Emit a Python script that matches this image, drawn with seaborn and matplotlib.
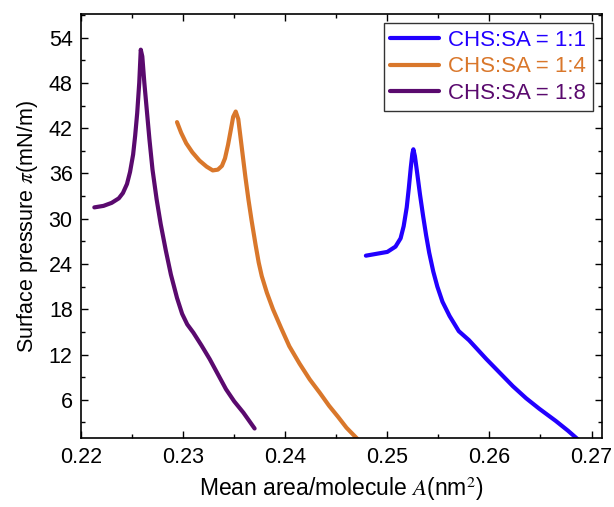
import pandas as pd
import matplotlib
matplotlib.use("Agg")
import matplotlib.pyplot as plt
from matplotlib.ticker import MultipleLocator, FormatStrFormatter
import seaborn as sns

# --- dados (isotermas pi-A) ---
labels = ["CHS:SA = 1:1", "CHS:SA = 1:4", "CHS:SA = 1:8"]
cores = ["#2200FF", "#D9772B", "#5A0A6E"]

a_11 = [0.2479, 0.2500, 0.2508, 0.2513, 0.2516, 0.2519, 0.2521, 0.2523, 0.25245,
        0.25255, 0.2527, 0.2529, 0.2532, 0.2535, 0.2538, 0.2541, 0.2545, 0.2549,
        0.2554, 0.2561, 0.2570, 0.2580, 0.2597, 0.2610, 0.2623, 0.2636, 0.2649,
        0.2665, 0.2677, 0.2688]
p_11 = [25.1, 25.6, 26.3, 27.4, 29.0, 31.5, 34.0, 36.8, 38.6,
        39.2, 38.3, 36.3, 33.2, 30.4, 27.8, 25.5, 23.0, 21.0,
        19.0, 17.1, 15.1, 13.9, 11.4, 9.6, 7.8, 6.2, 4.8,
        3.2, 1.9, 0.6]

a_14 = [0.2294, 0.2298, 0.2303, 0.2309, 0.2316, 0.2323, 0.2329, 0.2334, 0.2338,
        0.2341, 0.2344, 0.2347, 0.2349, 0.23515, 0.2354, 0.2356, 0.2358, 0.2361,
        0.2364, 0.2367, 0.2371, 0.2374, 0.2377, 0.2382, 0.2388, 0.2396, 0.2404,
        0.2414, 0.2424, 0.2434, 0.2443, 0.2452, 0.2460, 0.2473]
p_14 = [42.8, 41.4, 40.0, 38.8, 37.7, 36.9, 36.4, 36.5, 37.0,
        38.0, 39.8, 42.0, 43.5, 44.2, 43.2, 41.0, 38.8, 35.5,
        32.5, 29.8, 26.5, 24.2, 22.4, 20.2, 18.0, 15.5, 13.1,
        10.8, 8.7, 6.9, 5.2, 3.7, 2.3, 0.5]

a_18 = [0.2213, 0.2222, 0.2230, 0.2237, 0.2241, 0.2245, 0.2248, 0.2251, 0.2253,
        0.2255, 0.2257, 0.22585, 0.2260, 0.2262, 0.2264, 0.2267, 0.2270, 0.2274,
        0.2278, 0.2283, 0.2288, 0.2294, 0.2299, 0.2304, 0.2310, 0.2318, 0.2326,
        0.2334, 0.2342, 0.2350, 0.2359, 0.2370]
p_18 = [31.5, 31.7, 32.1, 32.7, 33.4, 34.6, 36.2, 38.5, 41.0,
        44.0, 48.0, 52.4, 51.5, 48.0, 45.0, 40.5, 36.5, 32.6,
        29.3, 25.8, 22.6, 19.5, 17.4, 16.0, 14.9, 13.2, 11.4,
        9.4, 7.4, 5.8, 4.3, 2.2]

# montar DataFrame
partes = []
for lab, a, p in zip(labels, [a_11, a_14, a_18], [p_11, p_14, p_18]):
    d = pd.DataFrame({"A": a, "pi": p})
    d["Amostra"] = lab
    partes.append(d)
df = pd.concat(partes, ignore_index=True)

# --- estilo ---
sns.set_theme(style="ticks")
plt.rcParams["font.family"] = ["Liberation Sans", "DejaVu Sans"]
plt.rcParams["mathtext.fontset"] = "stix"
plt.rcParams["text.color"] = "black"
plt.rcParams["axes.labelcolor"] = "black"

fig = plt.figure(figsize=(6.14, 5.07), dpi=100)
ax = fig.add_axes([0.132, 0.1355, 0.848, 0.8365])

sns.lineplot(data=df, x="A", y="pi", hue="Amostra", hue_order=labels,
             palette=cores, sort=False, estimator=None,
             linewidth=3.0, ax=ax, legend=False)

ax.set_xlim(0.22, 0.271)
ax.set_ylim(0.9, 57.1)
ax.xaxis.set_major_locator(MultipleLocator(0.01))
ax.xaxis.set_minor_locator(MultipleLocator(0.005))
ax.xaxis.set_major_formatter(FormatStrFormatter("%.2f"))
ax.yaxis.set_minor_locator(MultipleLocator(3))
ax.set_yticks([6, 12, 18, 24, 30, 36, 42, 48, 54])

ax.tick_params(which="both", direction="in", top=True, right=True,
               width=1.0, colors="black", labelsize=15.5)
ax.tick_params(which="major", length=5, pad=6)
ax.tick_params(which="minor", length=3)
for s in ax.spines.values():
    s.set_linewidth(1.2)
    s.set_color("black")

ax.set_xlabel(r"Mean area/molecule $\mathit{A}$(nm$^2$)", fontsize=16.5, labelpad=5)
ax.set_ylabel(r"Surface pressure $\pi$(mN/m)", fontsize=15.5, labelpad=6)

# legenda com texto colorido
handles = [plt.Line2D([], [], color=c, lw=3.0) for c in cores]
leg = ax.legend(handles, labels, loc="upper right", fontsize=16,
                frameon=True, fancybox=False, handlelength=2.2,
                handletextpad=0.4, borderpad=0.3, labelspacing=0.25,
                borderaxespad=0.4)
leg.get_frame().set_edgecolor("black")
leg.get_frame().set_linewidth(1.0)
for txt, c in zip(leg.get_texts(), cores):
    txt.set_color(c)

fig.savefig("out.png", dpi=100)
